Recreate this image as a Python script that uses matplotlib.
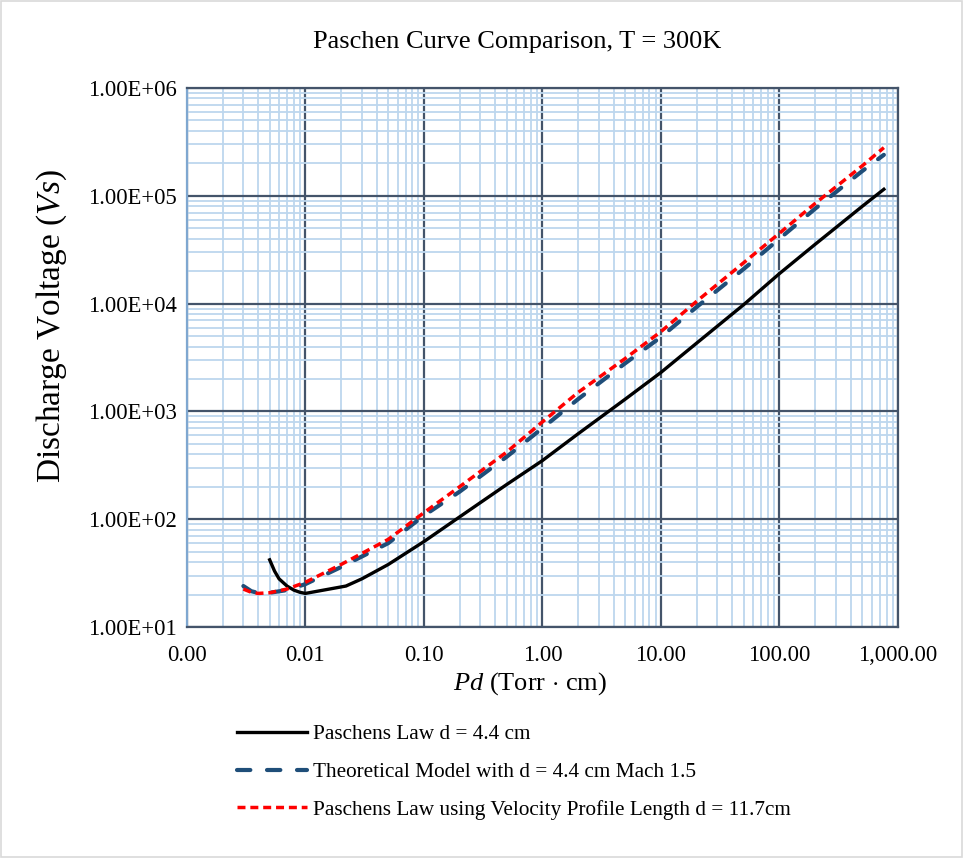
import numpy as np
import matplotlib
matplotlib.use("Agg")
import matplotlib.pyplot as plt
from matplotlib.ticker import LogLocator, NullFormatter

plt.rcParams["font.family"] = ["Liberation Serif", "DejaVu Serif"]
plt.rcParams["mathtext.fontset"] = "custom"
plt.rcParams["mathtext.rm"] = "Liberation Serif"
plt.rcParams["mathtext.it"] = "Liberation Serif:italic"

# Paschens Law d = 4.4 cm
pd_black = [0.005, 0.0055, 0.006, 0.007, 0.008, 0.009, 0.01, 0.022, 0.03, 0.05,
            0.1, 0.2, 0.5, 1, 2, 5, 10, 20, 50, 100, 200, 500, 760]
vs_black = [42, 33, 28, 24, 22, 21, 20.5, 24, 28, 38,
            62, 105, 210, 350, 620, 1300, 2300, 4300, 9800, 19000, 35500, 80000, 115000]

# Theoretical Model with d = 4.4 cm Mach 1.5
pd_blue = [0.003, 0.0035, 0.004, 0.005, 0.007, 0.01, 0.02, 0.05, 0.1, 0.2,
           0.5, 1, 2, 5, 10, 20, 50, 100, 200, 500, 760]
vs_blue = [24, 21.5, 20.7, 20.8, 22, 25, 36, 60, 108, 180,
           380, 700, 1300, 2800, 4900, 9300, 21000, 40000, 76000, 170000, 240000]

# Paschens Law using Velocity Profile Length d = 11.7cm
pd_red = [0.003, 0.0035, 0.004, 0.005, 0.007, 0.01, 0.02, 0.05, 0.1, 0.2,
          0.5, 1, 2, 5, 10, 20, 50, 100, 200, 500, 760]
vs_red = [22.5, 21, 20.5, 20.8, 22.5, 26, 38, 65, 115, 200,
          420, 800, 1500, 3100, 5500, 10500, 24000, 45000, 85000, 190000, 280000]

x_ticks = [0.001, 0.01, 0.1, 1, 10, 100, 1000]
x_labels = ["0.00", "0.01", "0.10", "1.00", "10.00", "100.00", "1,000.00"]
y_ticks = [1e1, 1e2, 1e3, 1e4, 1e5, 1e6]
y_labels = ["1.00E+01", "1.00E+02", "1.00E+03", "1.00E+04", "1.00E+05", "1.00E+06"]

major_c = "#44546a"
minor_c = "#bdd7ee"

fig = plt.figure(figsize=(9.63, 8.58), dpi=100)
ax = fig.add_axes([0.194, 0.2692, 0.7385, 0.6282])
ax.set_xscale("log")
ax.set_yscale("log")
ax.set_xlim(0.001, 1000)
ax.set_ylim(10, 1e6)

ax.xaxis.set_minor_locator(LogLocator(base=10, subs=np.arange(2, 10), numticks=20))
ax.yaxis.set_minor_locator(LogLocator(base=10, subs=np.arange(2, 10), numticks=20))
ax.xaxis.set_minor_formatter(NullFormatter())
ax.yaxis.set_minor_formatter(NullFormatter())
ax.grid(which="minor", color=minor_c, linewidth=1.3, zorder=0)
ax.grid(which="major", color=major_c, linewidth=1.6, zorder=1)
ax.set_axisbelow(True)

ax.set_xticks(x_ticks, x_labels)
ax.set_yticks(y_ticks, y_labels)
ax.tick_params(which="both", length=0, labelsize=16.3)
ax.tick_params(axis="y", pad=7)
ax.tick_params(axis="x", pad=13)

for s in ax.spines.values():
    s.set_color(major_c)
    s.set_linewidth(1.6)
ax.spines["left"].set_color("#7fa7d0")

ax.plot(pd_black, vs_black, color="black", linewidth=2.4,
        label="Paschens Law d = 4.4 cm", zorder=3)
ax.plot(pd_blue, vs_blue, color="#1f4e79", linewidth=3.0, dashes=(3.2, 4.0),
        dash_capstyle="round", label="Theoretical Model with d = 4.4 cm Mach 1.5", zorder=4)
ax.plot(pd_red, vs_red, color="#ff0000", linewidth=2.5, dashes=(2.3, 1.4),
        label="Paschens Law using Velocity Profile Length d = 11.7cm", zorder=5)

fig.text(0.5375, 0.951, "Paschen Curve Comparison, T = 300K", ha="center", va="center", fontsize=19)
ax.set_ylabel(r"Discharge Voltage ($\mathit{Vs}$)", fontsize=24)
ax.yaxis.set_label_coords(-0.165, 0.558)
ax.set_xlabel(r"$\mathit{Pd}$ (Torr $\cdot$ cm)", fontsize=19)
ax.xaxis.set_label_coords(0.482, -0.08)

fig.legend(loc="upper left", bbox_to_anchor=(0.2266, 0.178), frameon=False,
           fontsize=15.3, handlelength=3.3, handletextpad=0.25, labelspacing=0.84)

fig.patches.append(plt.Rectangle((0.001, 0.001), 0.998, 0.998, transform=fig.transFigure,
                                 fill=False, edgecolor="#d9d9d9", linewidth=1.2))

fig.savefig("out.png", dpi=100)
